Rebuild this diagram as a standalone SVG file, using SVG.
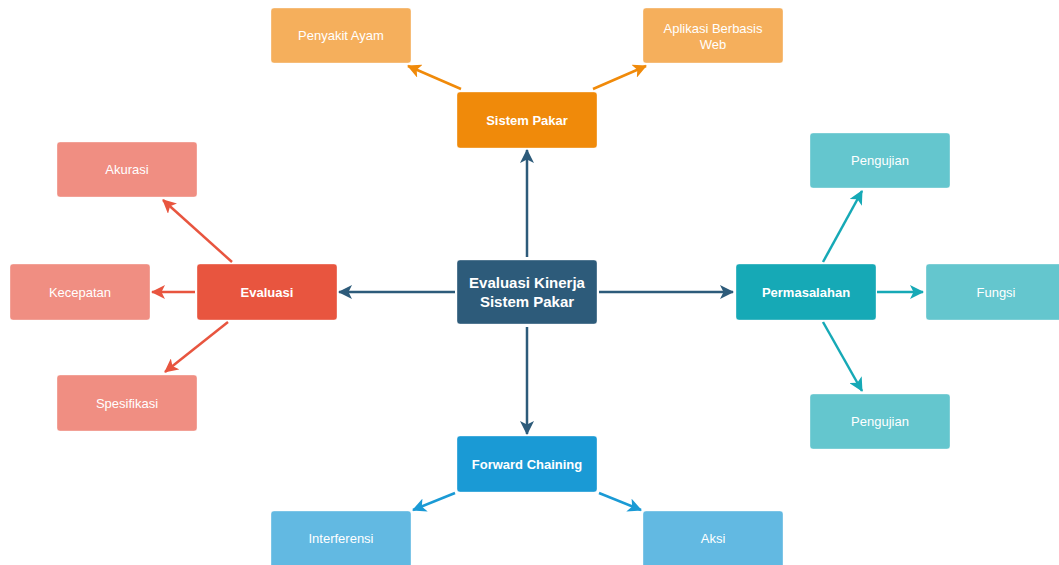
<svg xmlns="http://www.w3.org/2000/svg" width="1059" height="565" viewBox="0 0 1059 565">
<defs>
<style>
text{font-family:"Liberation Sans",Arial,sans-serif;font-size:13px;fill:#fff;text-anchor:middle}
.b{font-weight:bold}
.c{font-size:15px;font-weight:bold}
rect{stroke:#fff;stroke-opacity:0.35;stroke-width:1}
.ln{fill:none;stroke-width:2.5}
</style>
<marker id="aDark" markerUnits="userSpaceOnUse" markerWidth="14" markerHeight="14" viewBox="0 0 14 14" refX="13" refY="7" orient="auto"><path d="M0,0 L14,7 L0,14 L3.5,7 z" fill="#2D5B7A"/></marker>
<marker id="aOr" markerUnits="userSpaceOnUse" markerWidth="14" markerHeight="14" viewBox="0 0 14 14" refX="13" refY="7" orient="auto"><path d="M0,0 L14,7 L0,14 L3.5,7 z" fill="#F08A0A"/></marker>
<marker id="aRed" markerUnits="userSpaceOnUse" markerWidth="14" markerHeight="14" viewBox="0 0 14 14" refX="13" refY="7" orient="auto"><path d="M0,0 L14,7 L0,14 L3.5,7 z" fill="#E8553F"/></marker>
<marker id="aTeal" markerUnits="userSpaceOnUse" markerWidth="14" markerHeight="14" viewBox="0 0 14 14" refX="13" refY="7" orient="auto"><path d="M0,0 L14,7 L0,14 L3.5,7 z" fill="#16A9B6"/></marker>
<marker id="aBlue" markerUnits="userSpaceOnUse" markerWidth="14" markerHeight="14" viewBox="0 0 14 14" refX="13" refY="7" orient="auto"><path d="M0,0 L14,7 L0,14 L3.5,7 z" fill="#1A9AD5"/></marker>
</defs>
<rect x="0" y="0" width="1059" height="565" fill="#fff" stroke="none"/>
<g id="connectors">
<line class="ln" stroke="#2D5B7A" x1="527" y1="257" x2="527" y2="150" marker-end="url(#aDark)"/>
<line class="ln" stroke="#2D5B7A" x1="527" y1="327" x2="527" y2="434" marker-end="url(#aDark)"/>
<line class="ln" stroke="#2D5B7A" x1="455" y1="292" x2="339" y2="292" marker-end="url(#aDark)"/>
<line class="ln" stroke="#2D5B7A" x1="599" y1="292" x2="733" y2="292" marker-end="url(#aDark)"/>
<line class="ln" stroke="#F08A0A" x1="461" y1="89" x2="408" y2="66" marker-end="url(#aOr)"/>
<line class="ln" stroke="#F08A0A" x1="593" y1="89" x2="646" y2="66" marker-end="url(#aOr)"/>
<line class="ln" stroke="#E8553F" x1="232" y1="262" x2="163" y2="200" marker-end="url(#aRed)"/>
<line class="ln" stroke="#E8553F" x1="195" y1="292" x2="152" y2="292" marker-end="url(#aRed)"/>
<line class="ln" stroke="#E8553F" x1="228" y1="322" x2="165" y2="372" marker-end="url(#aRed)"/>
<line class="ln" stroke="#16A9B6" x1="823" y1="262" x2="862" y2="191" marker-end="url(#aTeal)"/>
<line class="ln" stroke="#16A9B6" x1="877" y1="292" x2="923" y2="292" marker-end="url(#aTeal)"/>
<line class="ln" stroke="#16A9B6" x1="823" y1="322" x2="862" y2="391" marker-end="url(#aTeal)"/>
<line class="ln" stroke="#1A9AD5" x1="455" y1="493" x2="413" y2="510" marker-end="url(#aBlue)"/>
<line class="ln" stroke="#1A9AD5" x1="599" y1="493" x2="641" y2="510" marker-end="url(#aBlue)"/>
</g>
<g id="center"><rect x="457" y="260" width="140" height="64" rx="3" fill="#2D5B7A"/><text class="c" x="527" y="288">Evaluasi Kinerja</text><text class="c" x="527" y="307">Sistem Pakar</text></g>
<g id="sistem-pakar"><rect x="457" y="92" width="140" height="56" rx="3" fill="#F08A0A"/><text class="b" x="527" y="124.5">Sistem Pakar</text></g>
<g id="penyakit-ayam"><rect x="271" y="8" width="140" height="55" rx="3" fill="#F5AF5C"/><text x="341" y="40">Penyakit Ayam</text></g>
<g id="aplikasi-web"><rect x="643" y="8" width="140" height="55" rx="3" fill="#F5AF5C"/><text x="713" y="33">Aplikasi Berbasis</text><text x="713" y="49">Web</text></g>
<g id="evaluasi"><rect x="197" y="264" width="140" height="56" rx="3" fill="#E8553F"/><text class="b" x="267" y="296.5">Evaluasi</text></g>
<g id="akurasi"><rect x="57" y="142" width="140" height="55" rx="3" fill="#F08E82"/><text x="127" y="174">Akurasi</text></g>
<g id="kecepatan"><rect x="10" y="264" width="140" height="56" rx="3" fill="#F08E82"/><text x="80" y="296.5">Kecepatan</text></g>
<g id="spesifikasi"><rect x="57" y="375" width="140" height="56" rx="3" fill="#F08E82"/><text x="127" y="407.5">Spesifikasi</text></g>
<g id="permasalahan"><rect x="736" y="264" width="140" height="56" rx="3" fill="#16A9B6"/><text class="b" x="806" y="296.5">Permasalahan</text></g>
<g id="pengujian-1"><rect x="810" y="133" width="140" height="55" rx="3" fill="#64C6CE"/><text x="880" y="165">Pengujian</text></g>
<g id="fungsi"><rect x="926" y="264" width="140" height="56" rx="3" fill="#64C6CE"/><text x="996" y="296.5">Fungsi</text></g>
<g id="pengujian-2"><rect x="810" y="394" width="140" height="55" rx="3" fill="#64C6CE"/><text x="880" y="426">Pengujian</text></g>
<g id="forward-chaining"><rect x="457" y="436" width="140" height="56" rx="3" fill="#1A9AD5"/><text class="b" x="527" y="468.5">Forward Chaining</text></g>
<g id="interferensi"><rect x="271" y="511" width="140" height="60" rx="3" fill="#62B9E2"/><text x="341" y="543">Interferensi</text></g>
<g id="aksi"><rect x="643" y="511" width="140" height="60" rx="3" fill="#62B9E2"/><text x="713" y="543">Aksi</text></g>
</svg>
